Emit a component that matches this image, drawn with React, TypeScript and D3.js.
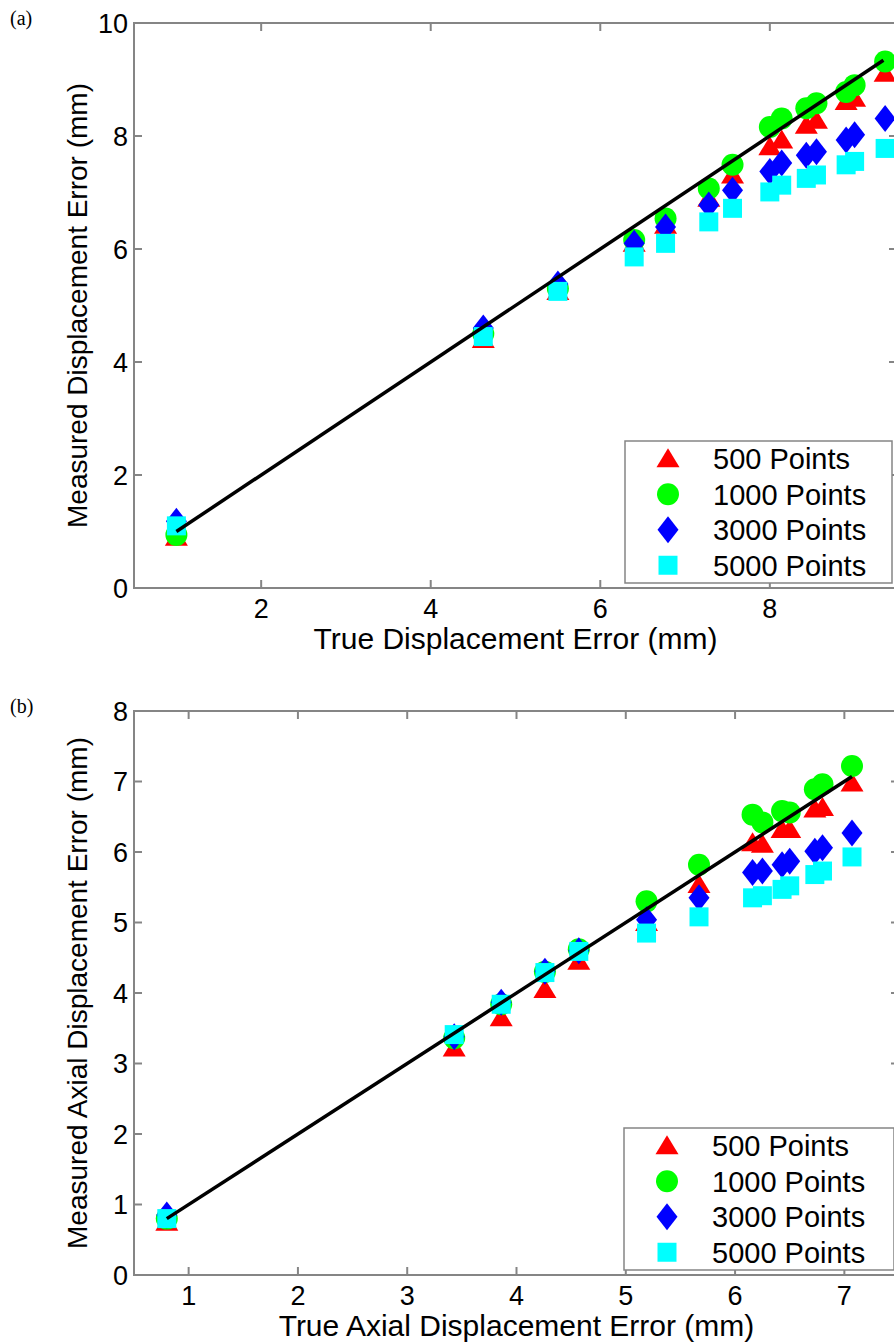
import React from "react";
import * as d3 from "d3";

// ---------- Data: panel (a) ----------
const topTrue = [1.0, 4.62, 5.5, 6.4, 6.77, 7.28, 7.56, 8.0, 8.14, 8.43, 8.55, 8.9, 9.0, 9.36];
const top500 = [0.9, 4.4, 5.25, 6.1, 6.42, 6.9, 7.31, 7.81, 7.93, 8.19, 8.28, 8.61, 8.67, 9.11];
const top1000 = [0.94, 4.5, 5.3, 6.16, 6.54, 7.07, 7.49, 8.16, 8.31, 8.49, 8.58, 8.78, 8.9, 9.32];
const top3000 = [1.18, 4.6, 5.38, 6.1, 6.39, 6.78, 7.04, 7.37, 7.52, 7.66, 7.72, 7.93, 8.02, 8.31];
const top5000 = [1.1, 4.45, 5.25, 5.86, 6.1, 6.48, 6.72, 7.01, 7.13, 7.25, 7.31, 7.49, 7.55, 7.78];
const topLine = [1.0, 9.34];
const topXTicks = [2, 4, 6, 8];
const topYTicks = [0, 2, 4, 6, 8, 10];

// ---------- Data: panel (b) ----------
const botTrue = [0.8, 3.43, 3.86, 4.26, 4.57, 5.19, 5.67, 6.16, 6.25, 6.43, 6.5, 6.73, 6.8, 7.07];
const bot500 = [0.75, 3.22, 3.65, 4.05, 4.45, 5.0, 5.54, 6.13, 6.11, 6.32, 6.32, 6.61, 6.63, 6.98];
const bot1000 = [0.8, 3.36, 3.84, 4.3, 4.62, 5.3, 5.82, 6.53, 6.42, 6.58, 6.56, 6.89, 6.96, 7.22];
const bot3000 = [0.85, 3.38, 3.87, 4.31, 4.6, 5.04, 5.35, 5.71, 5.73, 5.82, 5.87, 6.01, 6.06, 6.27];
const bot5000 = [0.8, 3.41, 3.84, 4.29, 4.59, 4.85, 5.08, 5.35, 5.38, 5.47, 5.52, 5.68, 5.73, 5.93];
const botLine = [0.8, 7.07];
const botXTicks = [1, 2, 3, 4, 5, 6, 7];
const botYTicks = [0, 1, 2, 3, 4, 5, 6, 7, 8];

const seriesNames = ["500 Points", "1000 Points", "3000 Points", "5000 Points"];
const seriesColors = ["#ff0000", "#00ff00", "#0000ff", "#00ffff"];
const seriesShapes = ["triangle", "circle", "diamond", "square"];

const FONT = "'Liberation Sans', Arial, Helvetica, sans-serif";
const AXIS = "#858585";

function markerPath(shape: string): string {
  switch (shape) {
    case "triangle":
      return "M0,-10.5L11.5,8.5L-11.5,8.5Z";
    case "circle":
      return d3.symbol(d3.symbolCircle, Math.PI * 11 * 11)() as string;
    case "diamond":
      return "M0,-13.5L10.5,0L0,13.5L-10.5,0Z";
    default:
      return "M-9.5,-9.5L9.5,-9.5L9.5,9.5L-9.5,9.5Z";
  }
}

type PanelProps = {
  left: number;
  right: number;
  top: number;
  bottom: number;
  xDomain: [number, number];
  yDomain: [number, number];
  xTicks: number[];
  yTicks: number[];
  trueX: number[];
  series: number[][];
  line: number[];
  xLabel: string;
  yLabel: string;
  tag: string;
  legendTop: number;
  legendLeft: number;
};

function Panel(p: PanelProps) {
  const x = d3.scaleLinear().domain(p.xDomain).range([p.left, p.right]);
  const y = d3.scaleLinear().domain(p.yDomain).range([p.bottom, p.top]);
  const tl = 8;
  const lineGen = d3
    .line<number>()
    .x((d) => x(d))
    .y((d) => y(d));
  const legendRight = p.right - 5;
  const legendBottom = p.bottom - 5;
  const rowH = (legendBottom - p.legendTop) / 4;
  const cx = (p.left + p.right) / 2;
  const cy = (p.top + p.bottom) / 2;
  return (
    <g>
      <text x={10} y={p.top + 2} fontFamily="'Liberation Serif', 'Times New Roman', serif" fontSize={20}>
        {p.tag}
      </text>
      {/* box */}
      <rect x={p.left} y={p.top} width={p.right - p.left} height={p.bottom - p.top} fill="white" stroke={AXIS} strokeWidth={2} />
      {/* x ticks */}
      {p.xTicks.map((t) => (
        <g key={"xt" + t}>
          <line x1={x(t)} x2={x(t)} y1={p.bottom} y2={p.bottom - tl} stroke={AXIS} strokeWidth={2} />
          <line x1={x(t)} x2={x(t)} y1={p.top} y2={p.top + tl} stroke={AXIS} strokeWidth={2} />
          <text x={x(t)} y={p.bottom + 30} textAnchor="middle" fontFamily={FONT} fontSize={27}>
            {t}
          </text>
        </g>
      ))}
      {/* y ticks */}
      {p.yTicks.map((t) => (
        <g key={"yt" + t}>
          <line x1={p.left} x2={p.left + tl} y1={y(t)} y2={y(t)} stroke={AXIS} strokeWidth={2} />
          <line x1={p.right} x2={p.right - tl} y1={y(t)} y2={y(t)} stroke={AXIS} strokeWidth={2} />
          <text x={p.left - 6} y={y(t)} dy="0.36em" textAnchor="end" fontFamily={FONT} fontSize={27}>
            {t}
          </text>
        </g>
      ))}
      {/* markers */}
      {p.series.map((vals, si) => (
        <g key={"s" + si} fill={seriesColors[si]}>
          {vals.map((v, i) => (
            <path key={i} d={markerPath(seriesShapes[si])} transform={`translate(${x(p.trueX[i])},${y(v)})`} />
          ))}
        </g>
      ))}
      {/* ideal line */}
      <path d={lineGen(p.line) as string} fill="none" stroke="#000" strokeWidth={3.5} />
      {/* legend */}
      <rect x={p.legendLeft} y={p.legendTop} width={legendRight - p.legendLeft} height={legendBottom - p.legendTop} fill="white" stroke={AXIS} strokeWidth={1.5} />
      {seriesNames.map((n, i) => {
        const ry = p.legendTop + rowH * (i + 0.5);
        return (
          <g key={"lg" + i}>
            <path d={markerPath(seriesShapes[i])} fill={seriesColors[i]} transform={`translate(${p.legendLeft + 43},${ry})`} />
            <text x={p.legendLeft + 88} y={ry} dy="0.36em" fontFamily={FONT} fontSize={29}>
              {n}
            </text>
          </g>
        );
      })}
      {/* axis labels */}
      <text x={cx} y={p.bottom + 61} textAnchor="middle" fontFamily={FONT} fontSize={30}>
        {p.xLabel}
      </text>
      <text transform={`translate(87,${cy}) rotate(-90)`} textAnchor="middle" fontFamily={FONT} fontSize={28}>
        {p.yLabel}
      </text>
    </g>
  );
}

export default function App() {
  return (
    <svg width={894} height={1343} style={{ position: "absolute", left: 0, top: 0, background: "white" }}>
      <rect x={0} y={0} width={894} height={1343} fill="white" />
      <Panel
        left={134}
        right={897}
        top={23}
        bottom={588}
        xDomain={[0.5, 9.5]}
        yDomain={[0, 10]}
        xTicks={topXTicks}
        yTicks={topYTicks}
        trueX={topTrue}
        series={[top500, top1000, top3000, top5000]}
        line={topLine}
        xLabel="True Displacement Error (mm)"
        yLabel="Measured Displacement Error (mm)"
        tag="(a)"
        legendTop={441}
        legendLeft={625}
      />
      <Panel
        left={134}
        right={899}
        top={711}
        bottom={1275}
        xDomain={[0.5, 7.5]}
        yDomain={[0, 8]}
        xTicks={botXTicks}
        yTicks={botYTicks}
        trueX={botTrue}
        series={[bot500, bot1000, bot3000, bot5000]}
        line={botLine}
        xLabel="True Axial Displacement Error (mm)"
        yLabel="Measured Axial Displacement Error (mm)"
        tag="(b)"
        legendTop={1128}
        legendLeft={624}
      />
    </svg>
  );
}
